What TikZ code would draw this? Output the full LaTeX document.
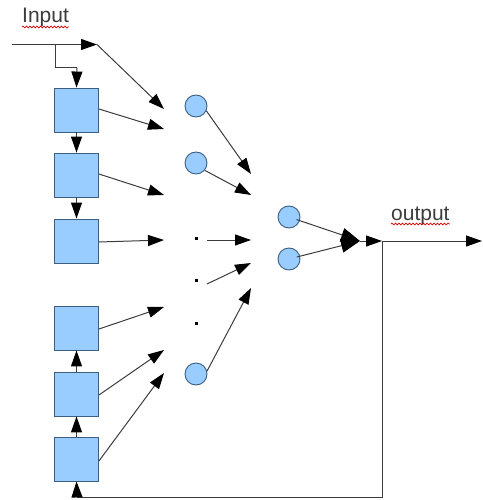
\documentclass[tikz,border=0pt]{standalone}
\usepackage{fontspec}
\setmainfont{Liberation Sans}
\usetikzlibrary{arrows.meta,decorations.pathmorphing}
\definecolor{boxfill}{RGB}{153,204,255}
\definecolor{boxline}{RGB}{60,95,128}
\definecolor{wire}{RGB}{60,60,60}
\tikzset{
  box/.style={draw=boxline,fill=boxfill,line width=0.9,minimum width=44,minimum height=44,inner sep=0},
  neuron/.style={circle,draw=boxline,fill=boxfill,line width=0.9,minimum size=22,inner sep=0},
  dotmark/.style={fill=black,minimum size=3,inner sep=0},
  wirea/.style={draw=wire,line width=1,-{Triangle[length=16,width=11,color=black]}},
  wireb/.style={draw=wire,line width=1,-{Triangle[length=19,width=14,color=black]}},
  plain/.style={draw=wire,line width=1},
  lbl/.style={font=\fontsize{21}{24}\selectfont,inner sep=0,text=wire},
  spell/.style={draw=red!85!black,line width=0.7,decorate,decoration={snake,amplitude=0.9,segment length=3.5}}
}
\begin{document}
\begin{tikzpicture}[x=1pt,y=-1pt]
\useasboundingbox (0,0) rectangle (482,500);
% labels
\node[lbl,anchor=base west] (lin) at (22,23) {Input};
\node[lbl,anchor=base west] (lout) at (391,220) {output};
\draw[spell] ([yshift=-4]lin.base west) -- ([yshift=-4]lin.base east);
\draw[spell] ([yshift=-4]lout.base west) -- ([yshift=-4]lout.base east);
% boxes
\node[box] (b1) at (76.5,110) {};
\node[box] (b2) at (76.5,175) {};
\node[box] (b3) at (76.5,241) {};
\node[box] (b4) at (76.5,328) {};
\node[box] (b5) at (76.5,394) {};
\node[box] (b6) at (76.5,459) {};
% circles and dots
\node[neuron] (c1) at (196,106) {};
\node[neuron] (c2) at (196,163) {};
\node[dotmark] (d1) at (196,238) {};
\node[dotmark] (d2) at (196,280) {};
\node[dotmark] (d3) at (196,323) {};
\node[neuron] (c3) at (196,374) {};
\node[neuron] (cA) at (289,217) {};
\node[neuron] (cB) at (289,259) {};
% coordinates
\coordinate (in0) at (12,44.5);
\coordinate (in1) at (97,44.5);
\coordinate (br) at (55,44.5);
\coordinate (brk) at (77,68);
\coordinate (t0) at (164,109);
\coordinate (t1) at (164,129);
\coordinate (t2) at (164,195);
\coordinate (t3) at (164,240);
\coordinate (t4) at (164,307);
\coordinate (t5) at (164,350);
\coordinate (t6) at (164,373);
\coordinate (s1) at (207,240);
\coordinate (s2) at (207,284);
\coordinate (u1) at (251,174);
\coordinate (u2) at (251,195);
\coordinate (u3) at (251,240);
\coordinate (u4) at (251,263);
\coordinate (u5) at (251,288);
\coordinate (m) at (360,241);
\coordinate (o1) at (382,241);
\coordinate (o2) at (482,241);
\coordinate (fb1) at (382,497);
\coordinate (fb2) at (77,497);
% input
\draw[wirea] (in0) -- (in1);
\draw[wirea] (in1) -- (t0);
\draw[plain] (br) |- (brk);
\draw[wirea] (brk) -- (b1.north);
% chain
\draw[wirea] (b1.south) -- (b2.north);
\draw[wirea] (b2.south) -- (b3.north);
\draw[wirea] (b5.north) -- (b4.south);
\draw[wirea] (b6.north) -- (b5.south);
% box outputs
\draw[wirea] ([yshift=1]b1.east) -- (t1);
\draw[wirea] ([yshift=1]b2.east) -- (t2);
\draw[wirea] ([yshift=-1]b3.east) -- (t3);
\draw[wirea] ([yshift=-1]b4.east) -- (t4);
\draw[wirea] ([yshift=-1]b5.east) -- (t5);
\draw[wirea] ([yshift=-2]b6.east) -- (t6);
% circle outputs
\draw[wirea] (c1.-25) -- (u1);
\draw[wirea] (c2.-40) -- (u2);
\draw[wirea] (s1) -- (u3);
\draw[wirea] (s2) -- (u4);
\draw[wirea] (c3.15) -- (u5);
% hidden to merge
\draw[wireb,shorten <=8] (cA.center) -- (m);
\draw[wireb,shorten <=8] (cB.center) -- (m);
\draw[wirea] (m) -- (o1);
\draw[wirea] (o1) -- (o2);
% feedback
\draw[plain] (o1) -- (fb1) -- (fb2);
\draw[wirea] (fb2) -- (b6.south);
\end{tikzpicture}
\end{document}
